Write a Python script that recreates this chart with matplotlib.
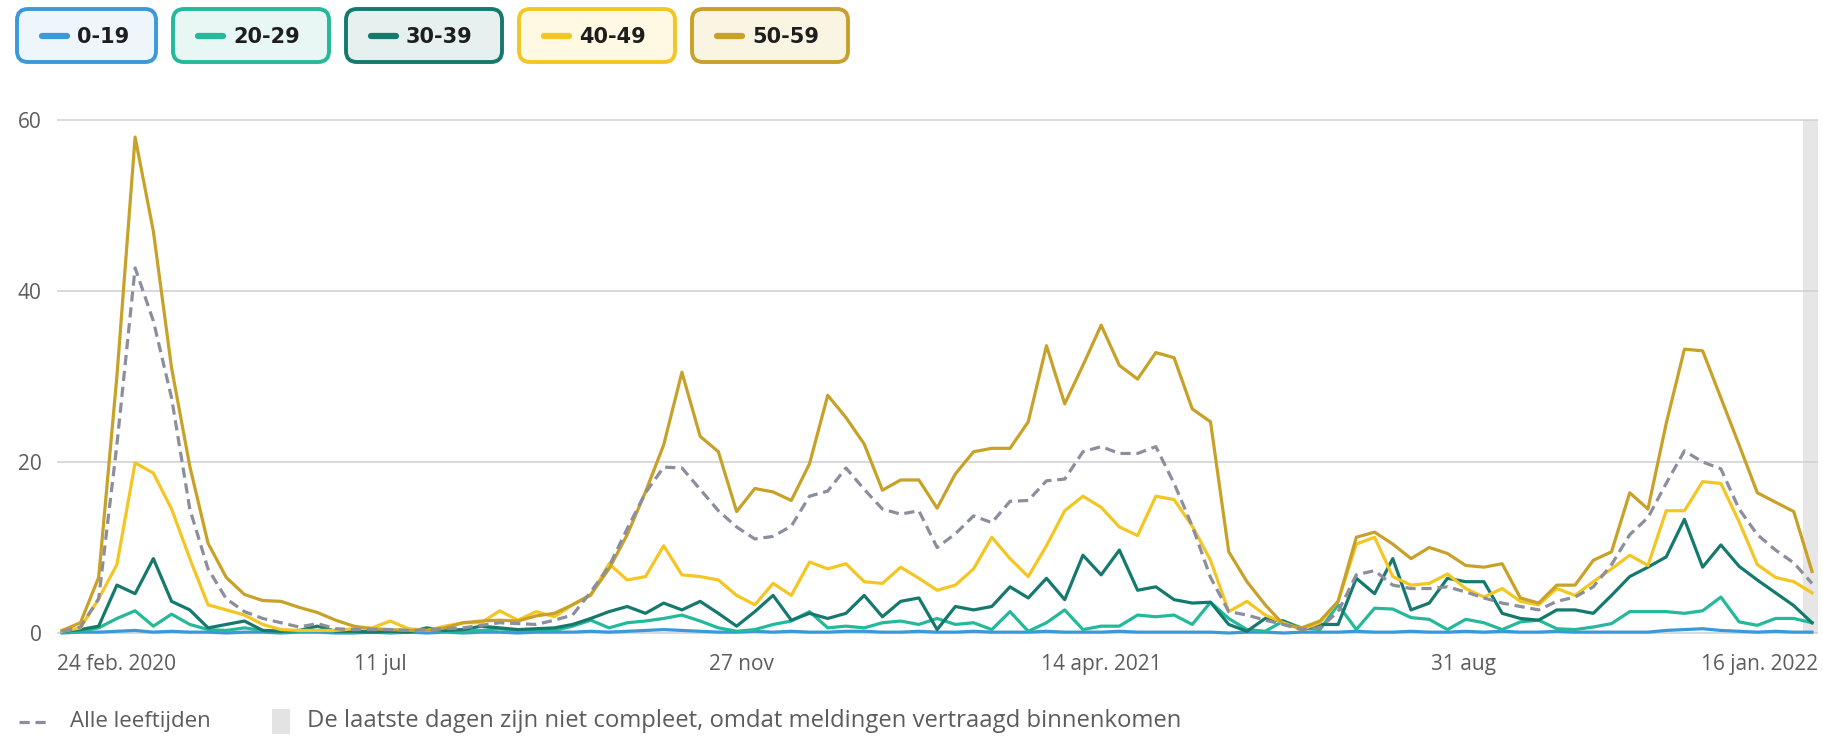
import numpy as np
import pandas as pd
import matplotlib
matplotlib.use("Agg")
import matplotlib.pyplot as plt
from matplotlib.patches import FancyBboxPatch, Rectangle
from matplotlib.lines import Line2D

plt.rcParams["font.family"] = ["Open Sans", "DejaVu Sans"]

# weekly values, first week starting 11 march 2020
START_DATE = "2020-03-11"

AGE_0_19 = [0.0, 0.1, 0.1, 0.2, 0.3, 0.1, 0.2, 0.1, 0.1, 0.0,
            0.1, 0.1, 0.0, 0.1, 0.1, 0.0, 0.0, 0.1, 0.0, 0.1,
            0.0, 0.1, 0.0, 0.1, 0.1, 0.0, 0.1, 0.1, 0.1, 0.2,
            0.1, 0.2, 0.3, 0.4, 0.3, 0.2, 0.1, 0.1, 0.2, 0.1,
            0.2, 0.1, 0.1, 0.2, 0.2, 0.1, 0.1, 0.2, 0.1, 0.1,
            0.2, 0.1, 0.1, 0.1, 0.2, 0.1, 0.1, 0.1, 0.2, 0.1,
            0.1, 0.1, 0.1, 0.1, 0.0, 0.1, 0.1, 0.0, 0.1, 0.1,
            0.1, 0.2, 0.1, 0.1, 0.2, 0.1, 0.1, 0.2, 0.1, 0.2,
            0.1, 0.1, 0.2, 0.1, 0.1, 0.1, 0.1, 0.1, 0.3, 0.4,
            0.5, 0.3, 0.2, 0.1, 0.2, 0.1, 0.1]

AGE_20_29 = [0.1, 0.2, 0.6, 1.7, 2.6, 0.8, 2.2, 1.0, 0.4, 0.3,
             0.6, 0.3, 0.2, 0.2, 0.3, 0.2, 0.1, 0.2, 0.1, 0.2,
             0.4, 0.2, 0.2, 0.3, 0.5, 0.3, 0.4, 0.3, 0.8, 1.5,
             0.6, 1.2, 1.4, 1.7, 2.1, 1.4, 0.6, 0.2, 0.4, 1.0,
             1.4, 2.5, 0.6, 0.8, 0.6, 1.2, 1.4, 1.0, 1.7, 1.0,
             1.2, 0.4, 2.5, 0.2, 1.2, 2.7, 0.4, 0.8, 0.8, 2.1,
             1.9, 2.1, 1.0, 3.6, 1.7, 0.4, 0.2, 1.4, 0.6, 0.4,
             3.3, 0.4, 2.9, 2.8, 1.8, 1.6, 0.4, 1.6, 1.2, 0.4,
             1.3, 1.5, 0.5, 0.4, 0.7, 1.1, 2.5, 2.5, 2.5, 2.3,
             2.6, 4.2, 1.3, 0.9, 1.7, 1.7, 1.2]

AGE_30_39 = [0.2, 0.4, 0.8, 5.6, 4.6, 8.7, 3.7, 2.7, 0.6, 1.0,
             1.4, 0.3, 0.2, 0.3, 0.8, 0.2, 0.2, 0.1, 0.2, 0.1,
             0.6, 0.3, 0.4, 0.8, 0.6, 0.4, 0.5, 0.6, 1.0, 1.7,
             2.5, 3.1, 2.3, 3.5, 2.7, 3.7, 2.3, 0.8, 2.5, 4.4,
             1.5, 2.3, 1.7, 2.3, 4.4, 1.9, 3.7, 4.1, 0.4, 3.1,
             2.7, 3.1, 5.4, 4.1, 6.4, 3.9, 9.1, 6.8, 9.7, 5.0,
             5.4, 3.9, 3.5, 3.6, 1.0, 0.2, 1.7, 1.4, 0.4, 1.0,
             1.0, 6.4, 4.6, 8.7, 2.7, 3.5, 6.4, 6.0, 6.0, 2.3,
             1.7, 1.5, 2.7, 2.7, 2.3, 4.4, 6.6, 7.7, 8.9, 13.3,
             7.7, 10.3, 7.8, 6.2, 4.7, 3.2, 1.2]

AGE_40_49 = [0.2, 0.6, 4.0, 8.0, 19.9, 18.7, 14.5, 8.7, 3.3, 2.7,
             2.1, 1.0, 0.4, 0.3, 0.3, 0.3, 0.5, 0.6, 1.4, 0.5,
             0.3, 0.8, 1.2, 1.2, 2.6, 1.5, 2.5, 1.9, 3.3, 4.4,
             8.1, 6.2, 6.6, 10.2, 6.8, 6.6, 6.2, 4.4, 3.3, 5.8,
             4.4, 8.3, 7.5, 8.1, 6.0, 5.8, 7.7, 6.4, 5.0, 5.6,
             7.5, 11.2, 8.7, 6.6, 10.2, 14.3, 16.0, 14.7, 12.4, 11.4,
             16.0, 15.6, 12.5, 8.5, 2.5, 3.7, 2.1, 1.2, 0.4, 1.2,
             3.7, 10.4, 11.2, 6.6, 5.6, 5.8, 6.9, 5.2, 4.2, 5.2,
             3.7, 3.3, 5.2, 4.4, 6.0, 7.5, 9.1, 7.9, 14.3, 14.3,
             17.7, 17.5, 13.0, 8.0, 6.5, 6.0, 4.7]

AGE_50_59 = [0.3, 1.2, 6.5, 30.0, 58.0, 47.0, 31.0, 19.5, 10.5, 6.5,
             4.5, 3.8, 3.7, 3.0, 2.4, 1.5, 0.8, 0.5, 0.4, 0.3,
             0.3, 0.6, 1.2, 1.4, 1.5, 1.4, 2.0, 2.3, 3.3, 4.5,
             7.5, 11.5, 16.5, 22.0, 30.5, 23.0, 21.2, 14.2, 16.9, 16.5,
             15.5, 19.8, 27.8, 25.2, 22.1, 16.7, 17.9, 17.9, 14.6, 18.6,
             21.2, 21.6, 21.6, 24.7, 33.6, 26.8, 31.3, 36.0, 31.3, 29.7,
             32.8, 32.2, 26.2, 24.7, 9.5, 6.0, 3.3, 1.0, 0.6, 1.4,
             3.7, 11.2, 11.8, 10.4, 8.7, 10.0, 9.3, 7.9, 7.7, 8.1,
             4.1, 3.5, 5.6, 5.6, 8.5, 9.5, 16.4, 14.5, 24.5, 33.2,
             33.0, 27.5, 22.0, 16.4, 15.3, 14.2, 7.2]

ALL_AGES = [0.2, 0.7, 4.0, 22.0, 42.7, 36.5, 27.5, 14.5, 7.5, 4.0,
            2.5, 1.7, 1.2, 0.7, 1.1, 0.5, 0.4, 0.4, 0.4, 0.3,
            0.4, 0.5, 0.6, 0.9, 1.2, 1.1, 1.0, 1.5, 2.1, 4.8,
            7.8, 12.2, 16.4, 19.4, 19.3, 16.8, 14.3, 12.4, 11.0, 11.3,
            12.5, 16.0, 16.6, 19.3, 16.8, 14.5, 13.9, 14.3, 10.0, 11.6,
            13.7, 12.9, 15.4, 15.5, 17.8, 18.0, 21.2, 21.8, 21.0, 21.0,
            21.8, 17.5, 12.5, 6.5, 2.5, 2.1, 1.5, 1.0, 0.4, 0.6,
            2.5, 6.8, 7.3, 5.6, 5.2, 5.2, 5.4, 4.8, 4.1, 3.5,
            3.1, 2.7, 3.7, 4.2, 5.4, 8.0, 11.5, 13.5, 17.5, 21.3,
            20.0, 19.2, 14.5, 11.5, 9.7, 8.2, 5.8]

GROUP_LABELS = ["0-19", "20-29", "30-39", "40-49", "50-59"]
GROUP_COLORS = ["#3a9ad9", "#23b99a", "#15796d", "#f3c623", "#c8a128"]
GROUP_FILLS = ["#eef5fb", "#e8f7f3", "#e6f0ee", "#fff8e3", "#faf4e2"]
ALL_LABEL = "Alle leeftijden"
ALL_COLOR = "#8b8e9c"
NOTE_LABEL = "De laatste dagen zijn niet compleet, omdat meldingen vertraagd binnenkomen"

TICK_DATES = ["2020-07-11", "2020-11-27", "2021-04-14", "2021-08-31"]
TICK_LABELS = ["24 feb. 2020", "11 jul", "27 nov", "14 apr. 2021", "31 aug", "16 jan. 2022"]
Y_TICKS = [0, 20, 40, 60]

W, H = 1824, 737
TEXT_GREY = "#5c5c5c"


def fx(px):
    return px / W


def fy(py):
    return 1 - py / H


series = [AGE_0_19, AGE_20_29, AGE_30_39, AGE_40_49, AGE_50_59]
dates = pd.date_range(START_DATE, periods=len(ALL_AGES), freq="7D")
x_lo = dates[0] - pd.Timedelta(days=2)
x_hi = dates[-1] + pd.Timedelta(days=2.3)
y_lo, y_hi = -0.5, 60.5

fig = plt.figure(figsize=(W / 100, H / 100), dpi=100)
fig.patch.set_facecolor("white")

# plot area: 0 line at y=633 px, 60 line at y=120 px
ppu = (633 - 120) / 60.0
ax_bottom = 633 + 0.5 * ppu
ax_top = 120 - 0.5 * ppu
ax = fig.add_axes([fx(57), fy(ax_bottom), fx(1818) - fx(57), (ax_bottom - ax_top) / H])

ax.set_xlim(x_lo, x_hi)
ax.set_ylim(y_lo, y_hi)

# incomplete last days band
band_lo = (0 - y_lo) / (y_hi - y_lo)
band_hi = (60 - y_lo) / (y_hi - y_lo)
ax.axvspan(dates[-1] - pd.Timedelta(days=3.5), x_hi, ymin=band_lo, ymax=band_hi,
           color="#e6e6e6", lw=0, zorder=0.5)

order = [1, 2, 3, 4, 0]
for k in order:
    ax.plot(dates, series[k], color=GROUP_COLORS[k], lw=2.3,
            solid_joinstyle="round", zorder=2 + k * 0.1)
ax.plot(dates, ALL_AGES, color=ALL_COLOR, lw=2.3, linestyle=(0, (3.2, 1.8)),
        zorder=3)

for v in Y_TICKS:
    ax.axhline(v, color="#cfcfcf", lw=1.1, zorder=0.8)

for s in ax.spines.values():
    s.set_visible(False)

ax.set_yticks(Y_TICKS)
ax.set_yticklabels([str(v) for v in Y_TICKS])
ax.tick_params(axis="y", length=0, pad=11, labelsize=15, labelcolor=TEXT_GREY)

xt = [x_lo] + [pd.Timestamp(d) for d in TICK_DATES] + [x_hi]
ax.set_xticks(xt)
ax.set_xticklabels(TICK_LABELS)
ax.tick_params(axis="x", length=0, pad=12, labelsize=15, labelcolor=TEXT_GREY)
xl = ax.get_xticklabels()
xl[0].set_ha("left")
xl[-1].set_ha("right")

# top legend buttons
bx = 17
for k, lab in enumerate(GROUP_LABELS):
    bw = 139 if k == 0 else 156
    box = FancyBboxPatch((fx(bx), fy(62)), fx(bw), 53 / H,
                         boxstyle="round,pad=0,rounding_size=0.006",
                         transform=fig.transFigure, facecolor=GROUP_FILLS[k],
                         edgecolor=GROUP_COLORS[k], lw=2.8, mutation_aspect=W / H)
    fig.patches.append(box)
    fig.lines.append(Line2D([fx(bx + 25), fx(bx + 50)], [fy(36), fy(36)],
                            transform=fig.transFigure, color=GROUP_COLORS[k],
                            lw=4.5, solid_capstyle="round"))
    fig.text(fx(bx + 60), fy(37), lab, fontsize=15, fontweight="bold",
             color="#1e1e1e", ha="left", va="center", family="DejaVu Sans")
    bx += bw + 17

# bottom legend
fig.lines.append(Line2D([fx(19), fx(47)], [fy(722), fy(722)], transform=fig.transFigure,
                        color=ALL_COLOR, lw=2.3, linestyle=(0, (3.2, 1.8))))
fig.text(fx(70), fy(721), ALL_LABEL, fontsize=16, color=TEXT_GREY, ha="left", va="center")
fig.patches.append(Rectangle((fx(272), fy(734)), fx(18), 25 / H, transform=fig.transFigure,
                             facecolor="#e3e3e3", edgecolor="none"))
fig.text(fx(307), fy(721), NOTE_LABEL, fontsize=17.2, color=TEXT_GREY, ha="left", va="center")

fig.savefig("out.png", dpi=100)
